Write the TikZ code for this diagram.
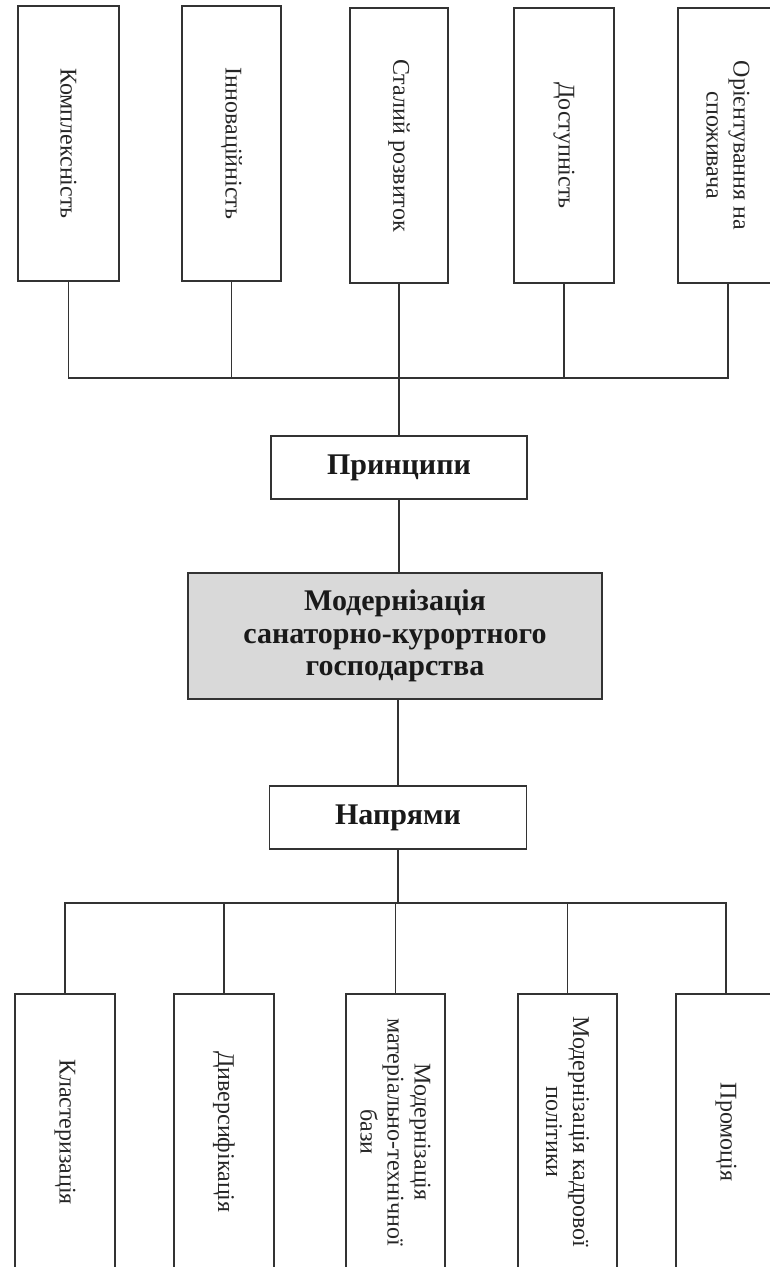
\documentclass[tikz,border=0pt]{standalone}
\usepackage{fontspec}
\setmainfont{Liberation Serif}
\definecolor{ln}{HTML}{333333}
\definecolor{mainfill}{HTML}{D9D9D9}
\begin{document}
\begin{tikzpicture}[x=1pt,y=-1pt,
  vbox/.style={draw=ln,line width=1.3pt,rectangle,inner sep=0pt,align=center,rotate=-90,
     font=\fontsize{24}{27}\selectfont,text=black!85},
  hbox/.style={draw=ln,line width=1.3pt,rectangle,inner sep=0pt,align=center,
     font=\fontsize{30}{32.5}\selectfont\bfseries,text=black!90},
  conn/.style={draw=ln,line width=1.1pt}]
\useasboundingbox (0,0) rectangle (770,1267);
\clip (0,0) rectangle (770,1267);
\fill[white] (0,0) rectangle (770,1267);
% top boxes (rotated: minimum width = vertical extent)
\node[vbox,minimum width=275,minimum height=101] (k1) at (68.5,143.5) {Комплексність};
\node[vbox,minimum width=275,minimum height=99] (k2) at (231.5,143.5) {Інноваційність};
\node[vbox,minimum width=275,minimum height=98] (k3) at (399,145.5) {Сталий розвиток};
\node[vbox,minimum width=275,minimum height=100] (k4) at (564,145.5) {Доступність};
\node[vbox,minimum width=275,minimum height=100] (k5) at (728,145.5) {Орієнтування на\\споживача};
\coordinate (tb) at (0,378);
\node[hbox,minimum width=256,minimum height=63] (pr) at (399,467.5) {Принципи};
\node[hbox,fill=mainfill,minimum width=414,minimum height=126] (mn) at (395,636) {Модернізація\\санаторно-курортного\\господарства};
\node[hbox,minimum width=257,minimum height=63] (np) at (398,817.5) {Напрями};
\coordinate (bb) at (0,903);
% bottom boxes
\node[vbox,minimum width=276,minimum height=100] (d1) at (65,1132) {Кластеризація};
\node[vbox,minimum width=276,minimum height=100] (d2) at (224,1132) {Диверсифікація};
\node[vbox,minimum width=276,minimum height=99] (d3) at (395.5,1132) {Модернізація\\матеріально-технічної\\бази};
\node[vbox,minimum width=276,minimum height=99] (d4) at (567.5,1132) {Модернізація кадрової\\політики};
\node[vbox,minimum width=276,minimum height=100] (d5) at (726,1132) {Промоція};
% connectors top (east anchor of a rotated box is its lower side)
\draw[conn] (k1.east) |- (tb -| k5.east) -- (k5.east);
\draw[conn] (k2.east) -- (k2.east |- tb);
\draw[conn] (k3.east) -- (k3.east |- tb);
\draw[conn] (k4.east) -- (k4.east |- tb);
\draw[conn] (pr.north) -- (pr.north |- tb);
\draw[conn] (pr.south) -- (pr.south |- mn.north);
\draw[conn] (np.north) -- (np.north |- mn.south);
\draw[conn] (np.south) -- (np.south |- bb);
% connectors bottom (west anchor of a rotated box is its upper side)
\draw[conn] (d1.west) |- (bb -| d5.west) -- (d5.west);
\draw[conn] (d2.west) -- (d2.west |- bb);
\draw[conn] (d3.west) -- (d3.west |- bb);
\draw[conn] (d4.west) -- (d4.west |- bb);
\end{tikzpicture}
\end{document}
